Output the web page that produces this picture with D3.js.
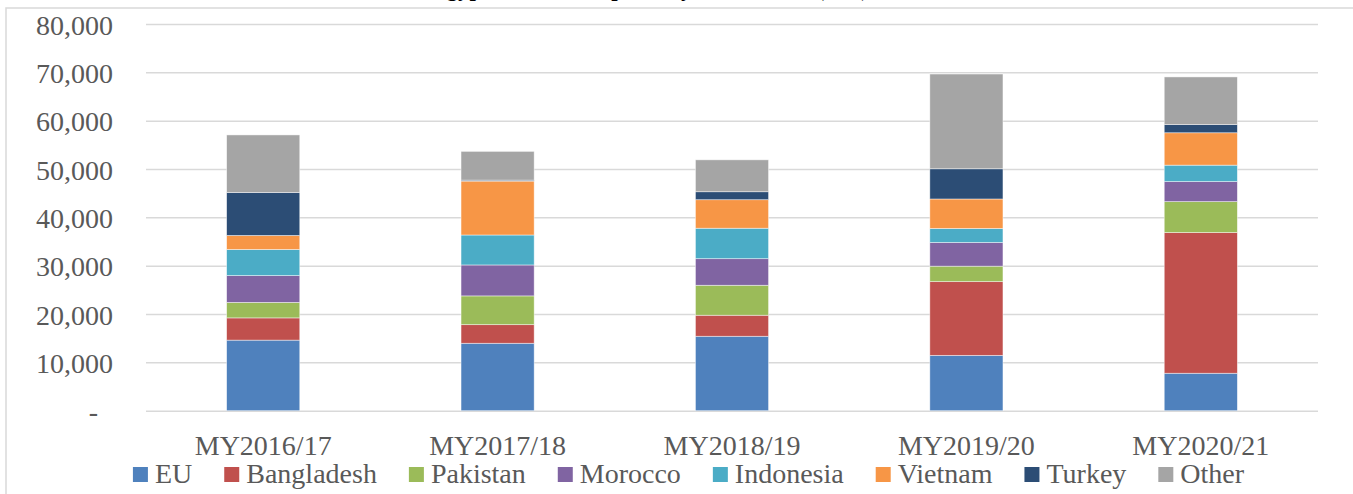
<!DOCTYPE html>
<html>
<head>
<meta charset="utf-8">
<script src="https://cdnjs.cloudflare.com/ajax/libs/d3/7.8.5/d3.min.js"></script>
<style>
  body { margin: 0; background: #fff; overflow: hidden; }
  svg { display: block; }
  svg text { font-family: 'Liberation Serif', 'Times New Roman', serif !important; }
</style>
</head>
<body>
<div id="chart"></div>
<script>
// Chart data
const years = ["MY2016/17", "MY2017/18", "MY2018/19", "MY2019/20", "MY2020/21"];
const countries = ["EU", "Bangladesh", "Pakistan", "Morocco", "Indonesia", "Vietnam", "Turkey", "Other"];
const EU = [14600, 13950, 15400, 11450, 7750];
const Bangladesh = [4600, 3850, 4350, 15250, 29100];
const Pakistan = [3200, 5950, 6200, 3200, 6400];
const Morocco = [5550, 6400, 5500, 4900, 4150];
const Indonesia = [5400, 6200, 6300, 2900, 3400];
const Vietnam = [2900, 11150, 5900, 6100, 6700];
const Turkey = [8900, 200, 1650, 6250, 1700];
const Other = [11900, 5950, 6600, 19600, 9850];
const yTicks = [0, 10000, 20000, 30000, 40000, 50000, 60000, 70000, 80000];
const colors = ["#4F81BD", "#C0504D", "#9BBB59", "#8064A2", "#4BACC6", "#F79646", "#2C4D75", "#A5A5A5"];

const seriesValues = [EU, Bangladesh, Pakistan, Morocco, Indonesia, Vietnam, Turkey, Other];
const rows = years.map((y, i) => {
    const r = { year: y };
    countries.forEach((c, j) => r[c] = seriesValues[j][i]);
    return r;
});

const width = 1353;
const height = 494;
const plot = { left: 146, right: 1318, top: 24, bottom: 410.7 };
const serif = "'Liberation Serif', 'Times New Roman', serif";

const svg = d3.select("#chart")
    .append("svg")
    .attr("width", width)
    .attr("height", height)
    .attr("font-family", serif);

// outer chart border
svg.append("rect")
    .attr("x", 6)
    .attr("y", 8)
    .attr("width", 1400)
    .attr("height", 600)
    .attr("fill", "none")
    .attr("stroke", "#d9d9d9")
    .attr("stroke-width", 1.5);

// title (cut off at the top edge, only the descenders show)
svg.append("text")
    .attr("x", 650)
    .attr("y", -4)
    .attr("text-anchor", "middle")
    .style("font-size", "23px")
    .style("font-weight", "bold")
    .style("fill", "#000")
    .text("Egypt's Cotton Exports by Destination (MT)");

const x = d3.scaleBand()
    .domain(years)
    .range([plot.left, plot.right])
    .paddingInner(0.688)
    .paddingOuter(0.344);

const y = d3.scaleLinear()
    .domain([0, 80000])
    .range([plot.bottom, plot.top]);

// gridlines
svg.append("g")
    .attr("transform", `translate(${plot.left},0)`)
    .call(d3.axisLeft(y).tickValues(yTicks).tickSize(-(plot.right - plot.left)).tickFormat(""))
    .call(g => g.select(".domain").remove())
    .call(g => g.selectAll("line").attr("stroke", "#d9d9d9").attr("stroke-width", 1.5));

// y labels
svg.append("g")
    .attr("transform", "translate(113,0)")
    .call(d3.axisLeft(y).tickValues(yTicks).tickSize(0).tickPadding(0)
        .tickFormat(d => d === 0 ? "-" : d3.format(",")(d)))
    .attr("font-family", serif)
    .call(g => g.select(".domain").remove())
    .call(g => g.selectAll("text")
        .attr("dy", "0.36em")
        .attr("dx", d => d === 0 ? -15 : 0)
        .style("font-size", "28px")
        .style("fill", "#595959"));

// stacked bars
const stack = d3.stack().keys(countries)(rows);
svg.append("g")
    .selectAll("g")
    .data(stack)
    .join("g")
    .attr("fill", (d, i) => colors[i])
    .selectAll("rect")
    .data(d => d)
    .join("rect")
    .attr("x", d => x(d.data.year))
    .attr("y", d => y(d[1]))
    .attr("width", x.bandwidth())
    .attr("height", d => y(d[0]) - y(d[1]))
    .attr("stroke", "#ffffff")
    .attr("stroke-opacity", 0.6)
    .attr("stroke-width", 0.75);

// x labels
svg.append("g")
    .attr("transform", `translate(0,${plot.bottom})`)
    .call(d3.axisBottom(x).tickSize(0).tickPadding(0))
    .attr("font-family", serif)
    .call(g => g.select(".domain").remove())
    .call(g => g.selectAll("text")
        .attr("y", 44)
        .attr("dy", 0)
        .style("font-size", "28px")
        .style("fill", "#595959"));

// legend
const legend = svg.append("g");
const items = legend.selectAll("g")
    .data(countries)
    .join("g");
items.append("rect")
    .attr("width", 15)
    .attr("height", 15)
    .attr("y", 467)
    .attr("fill", (d, i) => colors[i]);
items.append("text")
    .attr("x", 22)
    .attr("y", 483)
    .style("font-size", "28px")
    .style("fill", "#595959")
    .text(d => d);

const widths = items.nodes().map(n => d3.select(n).select("text").node().getComputedTextLength() + 22);
const gap = 32;
const total = d3.sum(widths) + gap * (widths.length - 1);
const start = 688.5 - total / 2;
items.attr("transform", (d, i) => `translate(${start + d3.sum(widths.slice(0, i)) + gap * i},0)`);
</script>
</body>
</html>
